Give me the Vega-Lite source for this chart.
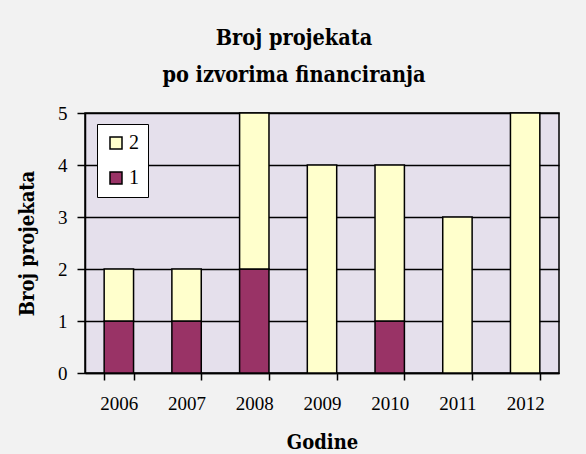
{
  "$schema": "https://vega.github.io/schema/vega-lite/v6.json",
  "autosize": {"type": "none"},
  "padding": {"left": 85, "top": 113, "right": 27, "bottom": 81},
  "width": 474,
  "height": 260,
  "background": "#f2f2f2",
  "title": {
    "text": ["Broj projekata", "po izvorima financiranja"],
    "font": "DejaVu Serif Condensed, DejaVu Serif",
    "fontSize": 21.5,
    "fontWeight": "bold",
    "lineHeight": 37,
    "color": "#000000",
    "anchor": "middle",
    "frame": "group",
    "dx": -28,
    "offset": 18
  },
  "config": {
    "view": {"fill": "#e5e0ec", "stroke": "#000000", "strokeWidth": 1.5},
    "font": "Liberation Serif"
  },
  "data": {
    "values": [
      {"year": "2006", "series": "1", "value": 1},
      {"year": "2006", "series": "2", "value": 1},
      {"year": "2007", "series": "1", "value": 1},
      {"year": "2007", "series": "2", "value": 1},
      {"year": "2008", "series": "1", "value": 2},
      {"year": "2008", "series": "2", "value": 3},
      {"year": "2009", "series": "2", "value": 4},
      {"year": "2010", "series": "1", "value": 1},
      {"year": "2010", "series": "2", "value": 3},
      {"year": "2011", "series": "2", "value": 3},
      {"year": "2012", "series": "2", "value": 5}
    ]
  },
  "mark": {"type": "bar", "stroke": "#000000", "strokeWidth": 1.5},
  "encoding": {
    "x": {
      "field": "year",
      "type": "ordinal",
      "scale": {"paddingInner": 0.566, "paddingOuter": 0.283},
      "axis": {
        "title": "Godine",
        "titleFont": "DejaVu Serif Condensed, DejaVu Serif",
        "titleFontSize": 20,
        "titleFontWeight": "bold",
        "titleColor": "#000000",
        "titlePadding": 19,
        "labelFont": "Liberation Serif",
        "labelFontSize": 19,
        "labelColor": "#000000",
        "labelAngle": 0,
        "labelPadding": 14,
        "tickBand": "extent",
        "tickSize": 7,
        "tickColor": "#000000",
        "tickWidth": 1.5,
        "domainColor": "#000000",
        "domainWidth": 1.5,
        "grid": false
      }
    },
    "y": {
      "field": "value",
      "type": "quantitative",
      "aggregate": "sum",
      "stack": "zero",
      "scale": {"domain": [0, 5], "nice": false},
      "axis": {
        "title": "Broj projekata",
        "titleFont": "DejaVu Serif Condensed, DejaVu Serif",
        "titleFontSize": 20,
        "titleFontWeight": "bold",
        "titleColor": "#000000",
        "titlePadding": 20,
        "labelFont": "Liberation Serif",
        "labelFontSize": 19,
        "labelColor": "#000000",
        "labelPadding": 10,
        "values": [0, 1, 2, 3, 4, 5],
        "tickSize": 8,
        "tickColor": "#000000",
        "tickWidth": 1.5,
        "domainColor": "#000000",
        "domainWidth": 1.5,
        "grid": true,
        "gridColor": "#000000",
        "gridWidth": 1.5,
        "gridOpacity": 1
      }
    },
    "color": {
      "field": "series",
      "type": "nominal",
      "scale": {"domain": ["2", "1"], "range": ["#ffffcc", "#993366"]},
      "legend": {
        "title": null,
        "orient": "none",
        "legendX": 12,
        "legendY": 11,
        "fillColor": "#ffffff",
        "strokeColor": "#000000",
        "padding": 9,
        "symbolOffset": 0,
        "symbolType": "square",
        "symbolSize": 144,
        "symbolStrokeColor": "#000000",
        "symbolStrokeWidth": 1.5,
        "symbolOpacity": 1,
        "labelFont": "Liberation Serif",
        "labelFontSize": 20,
        "labelColor": "#000000",
        "labelOffset": 3,
        "rowPadding": 15
      }
    },
    "order": {"field": "series", "sort": "ascending"}
  }
}
